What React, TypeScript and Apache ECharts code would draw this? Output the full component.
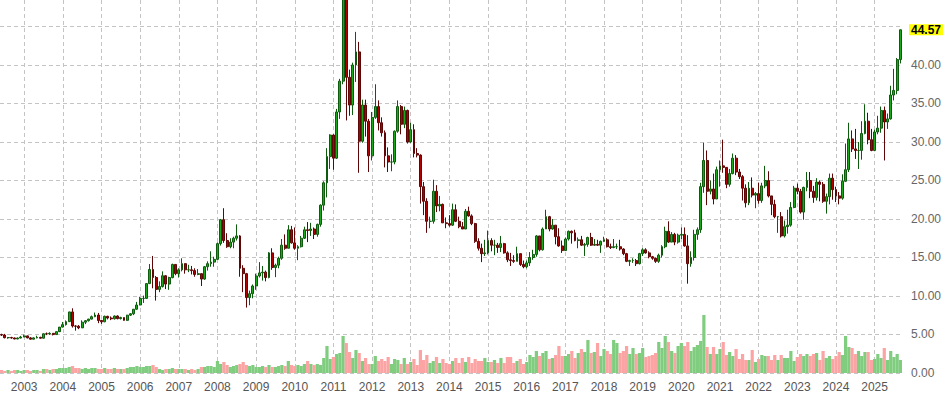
import React, { useEffect, useRef } from "react";
import * as echarts from "echarts";

// Monthly silver candles, rows are [open, close, low, high]
const y2002 = [
  [4.98, 4.93, 4.8, 5.1], [4.93, 4.58, 4.5, 5.08], [4.58, 4.6, 4.45, 4.68], [4.6, 4.55, 4.45, 4.7],
  [4.55, 4.42, 4.38, 4.6], [4.42, 4.54, 4.38, 4.62], [4.54, 4.67, 4.5, 4.82],
];
const y2003 = [
  [4.67, 4.82, 4.65, 4.98], [4.82, 4.56, 4.5, 4.85], [4.56, 4.39, 4.35, 4.66], [4.39, 4.56, 4.37, 4.64],
  [4.56, 4.63, 4.5, 4.84], [4.63, 4.52, 4.48, 4.7], [4.52, 5.09, 4.5, 5.15], [5.09, 5.08, 4.92, 5.26],
  [5.08, 5.15, 4.96, 5.29], [5.15, 4.99, 4.88, 5.16], [4.99, 5.37, 4.95, 5.4], [5.37, 5.96, 5.32, 5.97],
];
const y2004 = [
  [5.96, 6.28, 5.92, 6.63], [6.28, 6.67, 6.16, 6.83], [6.67, 7.93, 6.62, 7.95], [7.93, 6.1, 5.9, 8.4],
  [6.1, 6.08, 5.5, 6.2], [6.08, 5.86, 5.69, 6.22], [5.86, 6.6, 5.86, 6.84], [6.6, 6.79, 6.35, 6.88],
  [6.79, 7.0, 6.68, 7.04], [7.0, 7.31, 6.95, 7.46], [7.31, 7.53, 7.25, 7.85], [7.53, 6.82, 6.47, 7.8],
];
const y2005 = [
  [6.82, 6.65, 6.38, 6.9], [6.65, 7.36, 6.6, 7.45], [7.36, 7.14, 6.96, 7.43], [7.14, 7.04, 6.87, 7.34],
  [7.04, 7.4, 6.94, 7.48], [7.4, 7.06, 6.97, 7.49], [7.06, 7.2, 6.95, 7.31], [7.2, 6.84, 6.8, 7.18],
  [6.84, 7.51, 6.78, 7.55], [7.51, 7.69, 7.4, 7.78], [7.69, 8.28, 7.52, 8.3], [8.28, 8.83, 8.22, 9.23],
];
const y2006 = [
  [8.83, 9.68, 8.8, 9.9], [9.68, 9.69, 9.1, 10.05], [9.69, 11.61, 9.65, 11.65], [11.61, 13.44, 11.55, 14.15],
  [13.44, 12.4, 11.0, 15.2], [12.4, 10.86, 9.4, 12.6], [10.86, 11.23, 10.5, 11.9], [11.23, 12.63, 11.1, 13.2],
  [12.63, 11.55, 10.9, 12.7], [11.55, 12.39, 10.8, 12.5], [12.39, 14.1, 12.3, 14.2], [14.1, 12.9, 12.7, 14.05],
];
const y2007 = [
  [12.9, 13.4, 12.4, 13.6], [13.4, 14.2, 13.2, 14.9], [14.2, 13.4, 12.9, 14.1], [13.4, 13.4, 13.1, 14.05],
  [13.4, 13.3, 12.8, 13.9], [13.3, 12.8, 12.5, 13.6], [12.8, 12.9, 12.7, 13.5], [12.9, 12.2, 11.3, 12.95],
  [12.2, 13.8, 12.1, 13.9], [13.8, 14.2, 13.3, 14.5], [14.2, 14.4, 13.8, 15.8], [14.4, 14.76, 13.8, 15.1],
];
const y2008 = [
  [14.76, 16.8, 14.7, 16.95], [16.8, 19.9, 16.55, 20.0], [19.9, 17.2, 16.9, 21.4], [17.2, 16.4, 16.25, 18.15],
  [16.4, 17.0, 16.2, 17.5], [17.0, 17.5, 16.2, 17.7], [17.5, 17.8, 17.2, 19.3], [17.8, 13.6, 12.5, 17.9],
  [13.6, 12.9, 10.5, 14.0], [12.9, 9.8, 8.5, 13.0], [9.8, 10.3, 8.8, 10.7], [10.3, 11.3, 9.7, 11.5],
];
const y2009 = [
  [11.3, 12.6, 10.8, 12.9], [12.6, 13.0, 12.4, 14.4], [13.0, 13.1, 12.0, 13.9], [13.1, 12.4, 11.9, 13.3],
  [12.4, 15.6, 12.3, 15.7], [15.6, 13.7, 13.4, 16.2], [13.7, 14.0, 12.45, 14.2], [14.0, 14.9, 13.6, 15.1],
  [14.9, 16.6, 14.7, 17.4], [16.6, 16.2, 16.0, 18.0], [16.2, 18.6, 16.2, 19.2], [18.6, 16.9, 16.8, 19.1],
];
const y2010 = [
  [16.9, 16.2, 16.0, 18.9], [16.2, 16.4, 14.65, 16.6], [16.4, 17.5, 16.3, 17.8], [17.5, 18.6, 17.4, 19.0],
  [18.6, 18.5, 17.0, 19.6], [18.5, 18.7, 17.8, 19.5], [18.7, 18.0, 17.4, 18.9], [18.0, 19.3, 17.7, 19.4],
  [19.3, 21.8, 19.0, 21.9], [21.8, 24.7, 21.1, 24.9], [24.7, 28.1, 22.8, 29.2], [28.1, 30.9, 26.5, 31.0],
];
const y2011 = [
  [30.9, 27.9, 26.4, 31.0], [27.9, 33.9, 27.8, 34.3], [33.9, 37.9, 33.0, 38.2], [37.9, 48.6, 37.5, 49.8],
  [48.6, 38.4, 32.8, 49.0], [38.4, 34.8, 33.4, 39.4], [34.8, 40.0, 33.5, 40.3], [40.0, 41.7, 37.8, 44.3],
  [41.7, 30.1, 26.0, 43.0], [30.1, 34.8, 29.9, 35.5], [34.8, 32.7, 30.7, 35.5], [32.7, 28.2, 26.1, 33.0],
];
const y2012 = [
  [28.2, 33.2, 27.6, 33.9], [33.2, 34.6, 33.0, 37.5], [34.6, 32.5, 31.5, 35.4], [32.5, 31.2, 30.7, 33.2],
  [31.2, 28.2, 26.7, 31.5], [28.2, 27.4, 26.1, 29.3], [27.4, 27.4, 26.2, 28.4], [27.4, 31.4, 27.1, 31.5],
  [31.4, 34.6, 31.2, 35.4], [34.6, 32.3, 31.0, 34.8], [32.3, 34.1, 31.8, 34.6], [34.1, 30.0, 29.8, 34.2],
];
const y2013 = [
  [30.0, 31.6, 29.9, 32.5], [31.6, 28.5, 28.0, 32.3], [28.5, 28.3, 28.0, 29.2], [28.3, 24.2, 22.0, 28.4],
  [24.2, 22.3, 20.5, 24.8], [22.3, 19.7, 18.2, 22.7], [19.7, 19.7, 18.8, 20.3], [19.7, 23.6, 19.4, 25.1],
  [23.6, 21.7, 20.9, 24.4], [21.7, 21.9, 21.0, 23.0], [21.9, 19.5, 19.5, 22.0], [19.5, 19.4, 18.8, 20.2],
];
const y2014 = [
  [19.4, 19.2, 19.0, 20.5], [19.2, 21.2, 19.1, 22.0], [21.2, 19.7, 19.6, 21.9], [19.7, 19.0, 18.8, 20.3],
  [19.0, 18.7, 18.7, 19.6], [18.7, 21.0, 18.7, 21.3], [21.0, 20.4, 20.3, 21.6], [20.4, 19.4, 19.2, 20.6],
  [19.4, 17.1, 16.9, 19.5], [17.1, 16.2, 15.9, 17.5], [16.2, 15.5, 14.4, 16.8], [15.5, 15.6, 15.2, 17.3],
];
const y2015 = [
  [15.6, 17.2, 15.4, 18.5], [17.2, 16.6, 15.8, 17.5], [16.6, 16.6, 15.3, 17.3], [16.6, 16.3, 15.6, 16.9],
  [16.3, 16.8, 15.7, 17.8], [16.8, 15.6, 15.5, 16.9], [15.6, 14.7, 14.4, 15.8], [14.7, 14.6, 13.9, 15.6],
  [14.6, 14.5, 14.3, 15.3], [14.5, 15.5, 14.5, 16.4], [15.5, 14.1, 13.9, 15.5], [14.1, 13.8, 13.6, 14.6],
];
const y2016 = [
  [13.8, 14.3, 13.6, 14.6], [14.3, 15.0, 13.9, 15.7], [15.0, 15.4, 14.7, 16.0], [15.4, 17.8, 15.1, 17.9],
  [17.8, 16.0, 15.8, 17.8], [16.0, 18.7, 15.9, 18.9], [18.7, 20.3, 18.7, 21.2], [20.3, 18.7, 18.4, 20.4],
  [18.7, 19.2, 18.6, 20.0], [19.2, 17.7, 16.7, 19.2], [17.7, 16.5, 16.4, 18.8], [16.5, 15.9, 15.6, 17.2],
];
const y2017 = [
  [15.9, 17.4, 15.9, 17.6], [17.4, 18.4, 17.2, 18.5], [18.4, 18.2, 16.8, 18.5], [18.2, 17.2, 17.1, 18.6],
  [17.2, 17.3, 16.2, 17.6], [17.3, 16.6, 16.5, 17.8], [16.6, 16.7, 15.2, 16.9], [16.7, 17.6, 16.4, 17.7],
  [17.6, 16.6, 16.5, 18.2], [16.6, 16.7, 16.5, 17.4], [16.7, 16.6, 16.5, 17.3], [16.6, 17.1, 15.6, 17.2],
];
const y2018 = [
  [17.1, 17.3, 17.0, 17.7], [17.3, 16.4, 16.3, 17.5], [16.4, 16.3, 16.1, 16.8], [16.3, 16.4, 16.2, 17.4],
  [16.4, 16.4, 16.1, 16.8], [16.4, 16.1, 15.9, 17.3], [16.1, 15.5, 15.3, 16.2], [15.5, 14.5, 14.4, 15.6],
  [14.5, 14.6, 13.9, 14.7], [14.6, 14.6, 14.3, 14.9], [14.6, 14.2, 13.9, 14.8], [14.2, 15.5, 14.1, 15.6],
];
const y2019 = [
  [15.5, 16.0, 15.2, 16.2], [16.0, 15.6, 15.5, 16.2], [15.6, 15.1, 14.9, 15.8], [15.1, 14.9, 14.7, 15.2],
  [14.9, 14.5, 14.3, 15.0], [14.5, 15.3, 14.3, 15.5], [15.3, 16.4, 15.0, 16.6], [16.4, 18.4, 16.2, 19.0],
  [18.4, 17.0, 16.9, 19.7], [17.0, 18.0, 17.0, 18.3], [18.0, 17.0, 16.6, 18.2], [17.0, 17.9, 16.8, 18.1],
];
const y2020 = [
  [17.9, 18.0, 17.4, 18.9], [18.0, 16.5, 16.4, 18.9], [16.5, 14.2, 11.6, 17.9], [14.2, 15.0, 13.8, 15.8],
  [15.0, 18.0, 14.6, 18.6], [18.0, 18.6, 17.3, 18.9], [18.6, 24.2, 18.2, 24.7], [24.2, 27.6, 23.4, 29.9],
  [27.6, 23.6, 21.8, 28.9], [23.6, 23.9, 23.2, 25.0], [23.9, 22.6, 21.9, 25.9], [22.6, 26.4, 22.6, 26.8],
];
const y2021 = [
  [26.4, 26.9, 24.2, 27.6], [26.9, 26.7, 26.0, 30.3], [26.7, 24.5, 24.0, 26.6], [24.5, 25.9, 24.2, 26.5],
  [25.9, 27.9, 25.8, 28.5], [27.9, 26.1, 25.7, 28.3], [26.1, 25.5, 25.2, 26.5], [25.5, 24.0, 22.4, 25.7],
  [24.0, 22.1, 21.5, 24.5], [22.1, 24.0, 21.8, 24.8], [24.0, 23.1, 22.8, 25.4], [23.1, 23.3, 21.4, 23.5],
];
const y2022 = [
  [23.3, 22.4, 22.0, 24.7], [22.4, 24.3, 22.1, 24.7], [24.3, 25.0, 24.0, 26.9], [25.0, 23.0, 22.8, 26.2],
  [23.0, 21.9, 20.5, 23.0], [21.9, 20.3, 20.1, 22.5], [20.3, 20.3, 18.2, 20.4], [20.3, 17.8, 17.6, 20.9],
  [17.8, 19.0, 17.6, 19.8], [19.0, 19.2, 18.1, 21.2], [19.2, 21.5, 19.0, 22.2], [21.5, 24.0, 21.4, 24.3],
];
const y2023 = [
  [24.0, 23.6, 23.2, 24.6], [23.6, 20.9, 20.7, 23.9], [20.9, 24.1, 19.9, 24.2], [24.1, 25.0, 23.6, 26.1],
  [25.0, 23.6, 22.7, 26.1], [23.6, 22.8, 22.1, 24.3], [22.8, 24.8, 22.4, 25.3], [24.8, 24.5, 22.3, 25.0],
  [24.5, 22.3, 22.1, 24.8], [22.3, 22.9, 20.7, 23.3], [22.9, 25.3, 21.9, 25.9], [25.3, 23.8, 22.5, 25.9],
];
const y2024 = [
  [23.8, 23.0, 22.2, 24.2], [23.0, 22.7, 21.9, 23.5], [22.7, 24.9, 22.5, 25.8], [24.9, 26.4, 24.8, 29.8],
  [26.4, 30.4, 26.1, 32.5], [30.4, 29.1, 28.7, 31.5], [29.1, 28.9, 27.8, 31.7], [28.9, 28.9, 26.5, 30.0],
  [28.9, 31.1, 27.7, 32.7], [31.1, 32.7, 31.0, 34.9], [32.7, 30.3, 29.7, 33.8], [30.3, 28.9, 28.8, 31.7],
];
const y2025 = [
  [28.9, 31.3, 28.8, 31.6], [31.3, 31.8, 31.0, 33.4], [31.8, 34.1, 31.2, 34.6], [34.1, 32.6, 27.6, 34.6],
  [32.6, 33.0, 31.7, 33.7], [33.0, 36.1, 32.9, 37.3], [36.1, 36.7, 35.4, 39.5], [36.7, 40.7, 36.2, 40.9],
  [40.7, 44.57, 40.2, 44.6],
];

// Relative monthly volume
const v2002 = [3, 2, 3, 2, 3, 3, 2];
const v2003 = [3, 3, 2, 3, 3, 2, 4, 4, 3, 4, 4, 5];
const v2004 = [5, 5, 6, 7, 5, 5, 4, 5, 4, 5, 5, 4];
const v2005 = [4, 5, 4, 4, 5, 4, 4, 4, 5, 6, 6, 7];
const v2006 = [6, 6, 7, 7, 8, 6, 4, 3, 4, 4, 5, 4];
const v2007 = [4, 4, 4, 3, 4, 3, 4, 6, 6, 7, 7, 6];
const v2008 = [12, 9, 11, 8, 6, 7, 8, 9, 11, 8, 7, 8];
const v2009 = [6, 6, 7, 6, 8, 6, 6, 7, 8, 7, 12, 8];
const v2010 = [7, 8, 7, 9, 12, 9, 8, 9, 8, 15, 27, 14];
const v2011 = [16, 19, 20, 37, 30, 21, 15, 23, 20, 12, 15, 9];
const v2012 = [9, 17, 12, 14, 12, 16, 9, 14, 13, 9, 15, 9];
const v2013 = [11, 14, 8, 23, 13, 18, 10, 12, 16, 10, 14, 10];
const v2014 = [9, 12, 15, 10, 15, 11, 16, 10, 14, 12, 12, 15];
const v2015 = [11, 11, 13, 10, 15, 10, 16, 16, 10, 12, 14, 9];
const v2016 = [11, 18, 16, 22, 17, 20, 22, 14, 15, 18, 27, 17];
const v2017 = [17, 19, 22, 15, 20, 24, 21, 33, 20, 21, 30, 17];
const v2018 = [24, 22, 19, 33, 30, 20, 22, 27, 19, 25, 19, 20];
const v2019 = [25, 16, 17, 18, 20, 31, 25, 37, 31, 22, 20, 27];
const v2020 = [30, 27, 31, 22, 26, 28, 32, 58, 26, 19, 26, 19];
const v2021 = [24, 31, 18, 21, 17, 24, 14, 19, 13, 13, 23, 11];
const v2022 = [14, 18, 17, 17, 13, 18, 13, 18, 15, 15, 22, 12];
const v2023 = [16, 19, 17, 19, 17, 19, 20, 13, 22, 15, 17, 14];
const v2024 = [17, 21, 18, 37, 26, 25, 19, 22, 17, 21, 21, 13];
const v2025 = [14, 19, 15, 25, 13, 22, 16, 19, 13];

const yearRows: [number, number, number[][], number[]][] = [
  [2002, 6, y2002, v2002], [2003, 1, y2003, v2003], [2004, 1, y2004, v2004], [2005, 1, y2005, v2005],
  [2006, 1, y2006, v2006], [2007, 1, y2007, v2007], [2008, 1, y2008, v2008], [2009, 1, y2009, v2009],
  [2010, 1, y2010, v2010], [2011, 1, y2011, v2011], [2012, 1, y2012, v2012], [2013, 1, y2013, v2013],
  [2014, 1, y2014, v2014], [2015, 1, y2015, v2015], [2016, 1, y2016, v2016], [2017, 1, y2017, v2017],
  [2018, 1, y2018, v2018], [2019, 1, y2019, v2019], [2020, 1, y2020, v2020], [2021, 1, y2021, v2021],
  [2022, 1, y2022, v2022], [2023, 1, y2023, v2023], [2024, 1, y2024, v2024], [2025, 1, y2025, v2025],
];

// Price axis range (top edge of the plot sits just under 48.44)
const priceMin = 0;
const priceMax = 48.44;
const priceStep = 5;

const UP = "#1aa81a";
const UP_BORDER = "#0d5c0d";
const DOWN = "#b20000";
const DOWN_BORDER = "#5e0505";
const VOL_UP = "#80cd80";
const VOL_DOWN = "#fca4a4";
const GRID = "#c4c4c4";
const FONT = 'Arial, "Liberation Sans", Helvetica, sans-serif';

export default function App() {
  const ref = useRef<HTMLDivElement>(null);

  useEffect(() => {
    if (!ref.current) return;
    const chart = echarts.init(ref.current, undefined, { renderer: "svg" });

    const categories: string[] = [];
    const candles: number[][] = [];
    const volumes: { value: number; itemStyle: { color: string } }[] = [];
    yearRows.forEach(([year, startMonth, rows, vols]) => {
      rows.forEach((r, i) => {
        const m = startMonth + i;
        categories.push(`${year}-${m < 10 ? "0" + m : m}`);
        candles.push(r);
        volumes.push({ value: vols[i], itemStyle: { color: r[1] >= r[0] ? VOL_UP : VOL_DOWN } });
      });
    });
    const last = candles[candles.length - 1][1];
    const isJan = (_i: number, v: string) => v.endsWith("-01");

    chart.setOption({
      animation: false,
      backgroundColor: "#ffffff",
      textStyle: { fontFamily: FONT },
      grid: { left: 0, right: 48, top: 0, bottom: 23, containLabel: false },
      xAxis: {
        type: "category",
        data: categories,
        boundaryGap: true,
        axisLine: { show: false },
        axisTick: { show: false, alignWithLabel: true },
        axisLabel: {
          interval: isJan,
          formatter: (v: string) => v.slice(0, 4),
          color: "#555",
          fontSize: 12,
          margin: 8,
          fontFamily: FONT,
        },
        splitLine: {
          show: true,
          interval: isJan,
          alignWithLabel: true,
          lineStyle: { color: GRID, type: [4, 3], width: 1 },
        },
      },
      yAxis: [
        {
          type: "value",
          position: "right",
          min: priceMin,
          max: priceMax,
          interval: priceStep,
          axisLine: { show: false },
          axisTick: { show: false },
          axisLabel: {
            showMaxLabel: false,
            color: "#666",
            fontSize: 12,
            margin: 9,
            fontFamily: FONT,
            formatter: (v: number) => (Math.abs(v - 45) < 1e-9 ? "" : v.toFixed(2)),
          },
          splitLine: {
            show: true,
            showMaxLine: false,
            lineStyle: { color: GRID, type: [4, 3], width: 1 },
          },
        },
        {
          type: "value",
          position: "right",
          show: false,
          min: 0,
          max: 373,
          splitLine: { show: false },
        },
      ],
      series: [
        {
          type: "bar",
          yAxisIndex: 1,
          data: volumes,
          barCategoryGap: "0%",
          barGap: "0%",
          z: 1,
          silent: true,
        },
        {
          type: "candlestick",
          data: candles,
          barWidth: 2.4,
          z: 3,
          itemStyle: {
            color: UP,
            color0: DOWN,
            borderColor: UP_BORDER,
            borderColor0: DOWN_BORDER,
            borderWidth: 1,
          },
          markLine: {
            silent: true,
            symbol: "none",
            lineStyle: { color: "rgba(0,0,0,0)", width: 1, type: "solid" },
            data: [{ yAxis: last }],
            label: {
              show: true,
              position: "end",
              distance: 7,
              formatter: (p: any) => Number(p.value).toFixed(2),
              backgroundColor: "#ffff00",
              color: "#000",
              fontWeight: "bold",
              fontSize: 12,
              fontFamily: FONT,
              padding: [0, 2, 0, 2],
              lineHeight: 11,
            },
          },
        },
      ],
    });

    return () => chart.dispose();
  }, []);

  return (
    <div
      ref={ref}
      style={{ position: "absolute", left: 0, top: 0, width: 950, height: 396 }}
    />
  );
}
